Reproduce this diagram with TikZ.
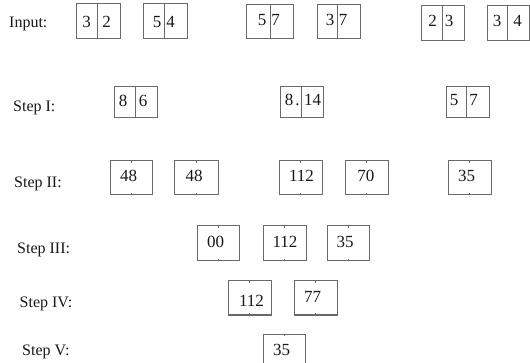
\documentclass[tikz,border=0pt]{standalone}
\usepackage{fontspec}
\setmainfont{Liberation Serif}
\definecolor{boxgray}{RGB}{105,105,105}
\definecolor{inkc}{RGB}{25,25,25}
\newcommand\mkbox[5]{\node[cell, minimum width={(#3)-(#2)}, minimum height={(#5)-(#4)}] (#1) at ({((#2)+(#3))/2},{((#4)+(#5))/2}) {};}
\begin{document}
\begin{tikzpicture}[x=1pt,y=-1pt,
  cell/.style={draw=boxgray, line width=1pt, inner sep=0pt, fill=none},
  divline/.style={draw=boxgray, line width=1pt},
  dig/.style={text=inkc, inner sep=0pt, anchor=base, font=\fontsize{17}{20}\selectfont},
  lab/.style={text=inkc, inner sep=0pt, anchor=base west, font=\fontsize{16}{19}\selectfont}]
\fill[white] (0,0) rectangle (530,363);
\useasboundingbox (0,0) rectangle (530,363);
% labels
\node[lab] (linput) at (9,28) {Input:};
\node[lab] (l1) at (13,112) {Step I:};
\node[lab] (l2) at (14,188) {Step II:};
\node[lab] (l3) at (17,254) {Step III:};
\node[lab] (l4) at (19.5,308) {Step IV:};
\node[lab] (l5) at (22,355) {Step V:};
% input row
\mkbox{a1}{76}{120}{4}{39}
\mkbox{a2}{143}{187}{4}{39}
\mkbox{a3}{246}{293}{5}{39}
\mkbox{a4}{317}{360}{5}{39}
\mkbox{a5}{421}{464}{6}{41}
\mkbox{a6}{487}{529.5}{6}{41}
\draw[divline] (a1.north -| 97,0) -- (a1.south -| 97,0);
\draw[divline] (a2.north -| 164,0) -- (a2.south -| 164,0);
\draw[divline] (a3.north -| 270,0) -- (a3.south -| 270,0);
\draw[divline] (a4.north -| 337,0) -- (a4.south -| 337,0);
\draw[divline] (a5.north -| 442,0) -- (a5.south -| 442,0);
\draw[divline] (a6.north -| 507,0) -- (a6.south -| 507,0);
\node[dig] (a1l) at (86.5,28) {3};
\node[dig] (a1r) at (106.5,28) {2};
\node[dig] (a2l) at (157,28) {5};
\node[dig] (a2r) at (170.5,28) {4};
\node[dig] (a3l) at (262,26) {5};
\node[dig] (a3r) at (275.5,26) {7};
\node[dig] (a4l) at (330,26) {3};
\node[dig] (a4r) at (343,26) {7};
\node[dig] (a5l) at (432.5,27) {2};
\node[dig] (a5r) at (449,27) {3};
\node[dig] (a6l) at (497,27) {3};
\node[dig] (a6r) at (517.5,27) {4};
% step I
\mkbox{b1}{114}{157}{87}{118}
\mkbox{b2}{280}{323}{87}{118}
\mkbox{b3}{446}{489}{87}{118}
\draw[divline] (b1.north -| 135,0) -- (b1.south -| 135,0);
\draw[divline] (b2.north -| 301,0) -- (b2.south -| 301,0);
\draw[divline] (b3.north -| 466,0) -- (b3.south -| 466,0);
\node[dig] (b1l) at (123,107) {8};
\node[dig] (b1r) at (143,107) {6};
\node[dig] (b2l) at (289,106) {8};
\node[dig] (b2d) at (297.5,106) {.};
\node[dig] (b2r) at (312.5,106) {14};
\node[dig] (b3l) at (454,106) {5};
\node[dig] (b3r) at (473.5,106) {7};
% step II
\mkbox{c1}{110}{152}{161}{195}
\mkbox{c2}{174}{218}{161}{195}
\mkbox{c3}{279}{322}{161}{195}
\mkbox{c4}{345}{388}{161}{195}
\mkbox{c5}{448}{491}{161}{195}
\node[dig] (c1t) at (128.5,182) {48};
\node[dig] (c2t) at (194,182) {48};
\node[dig] (c3t) at (301.5,182) {112};
\node[dig] (c4t) at (365.8,182) {70};
\node[dig] (c5t) at (466.7,182) {35};
% step III
\mkbox{d1}{197}{239}{226}{261}
\mkbox{d2}{263}{306}{226}{261}
\mkbox{d3}{327}{369}{226}{261}
\node[dig] (d1t) at (215.5,248) {00};
\node[dig] (d2t) at (285,248) {112};
\node[dig] (d3t) at (345,248) {35};
% step IV
\mkbox{e1}{228}{271}{281}{315}
\mkbox{e2}{294}{337}{281}{315}
\node[dig] (e1t) at (251.5,306) {112};
\node[dig] (e2t) at (312.5,303) {77};
% step V
\mkbox{f1}{263}{305}{334}{368}
\node[dig] (f1t) at (281.5,355) {35};
% ticks
\foreach \b in {c1,c2,c3,c4,c5,d1,d2,d3,e1,e2,f1}{
  \draw[boxgray, line width=0.7pt] (\b.north) -- ++(0,2.5);
  \draw[boxgray, line width=0.7pt] (\b.south) -- ++(0,-2.5);
}
\end{tikzpicture}
\end{document}
